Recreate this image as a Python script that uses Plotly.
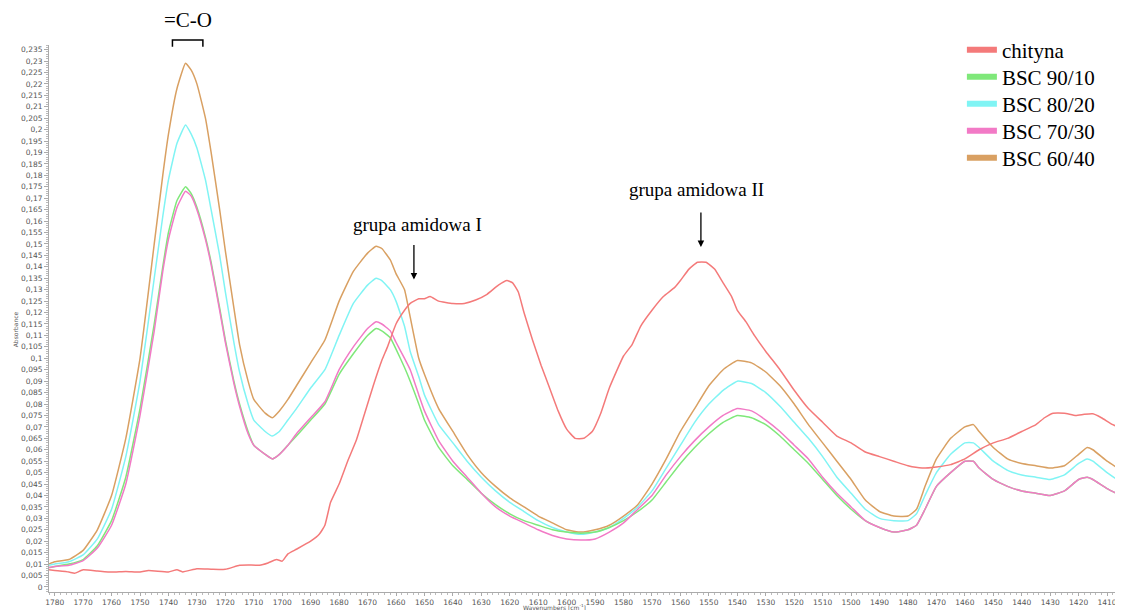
import plotly.graph_objects as go

# ---------------- data ----------------
wn_bsc = [1782, 1780, 1775, 1770, 1765, 1760, 1755, 1750, 1745, 1742, 1740, 1737, 1734, 1732, 1730,
          1727, 1725, 1722, 1720, 1717, 1715, 1712, 1710, 1706, 1703.5, 1701, 1698, 1695, 1690, 1685,
          1680, 1675, 1670, 1667, 1665, 1662, 1660, 1657, 1655, 1652, 1650, 1645, 1640, 1635, 1630,
          1625, 1620, 1615, 1610, 1605, 1600, 1595, 1590, 1585, 1580, 1575, 1570, 1565, 1560, 1555,
          1550, 1545, 1540, 1535, 1530, 1525, 1520, 1515, 1510, 1505, 1500, 1495, 1490, 1485, 1480,
          1477, 1474, 1470, 1465, 1460, 1457, 1455, 1450, 1445, 1440, 1435, 1430, 1425, 1420, 1417,
          1415, 1410, 1405, 1404]

bsc_60_40 = [0.010, 0.011, 0.012, 0.016, 0.025, 0.040, 0.065, 0.100, 0.150, 0.180, 0.198, 0.218, 0.229, 0.226, 0.220,
             0.205, 0.190, 0.165, 0.147, 0.122, 0.106, 0.090, 0.082, 0.076, 0.074, 0.077, 0.082, 0.088, 0.098, 0.108,
             0.125, 0.138, 0.146, 0.149, 0.148, 0.143, 0.137, 0.130, 0.118, 0.100, 0.093, 0.078, 0.068, 0.058, 0.050,
             0.044, 0.039, 0.035, 0.031, 0.028, 0.025, 0.024, 0.025, 0.027, 0.031, 0.036, 0.045, 0.056, 0.068, 0.078,
             0.088, 0.095, 0.099, 0.098, 0.094, 0.088, 0.080, 0.071, 0.063, 0.055, 0.047, 0.038, 0.033, 0.031, 0.031,
             0.034, 0.044, 0.056, 0.065, 0.070, 0.071, 0.068, 0.061, 0.056, 0.054, 0.053, 0.052, 0.053, 0.058, 0.061,
             0.060, 0.055, 0.051, 0.050]

bsc_80_20 = [0.0095, 0.010, 0.011, 0.014, 0.021, 0.034, 0.057, 0.090, 0.135, 0.162, 0.178, 0.194, 0.202, 0.198, 0.192,
             0.178, 0.165, 0.145, 0.129, 0.107, 0.094, 0.080, 0.073, 0.068, 0.066, 0.068, 0.073, 0.078, 0.087, 0.095,
             0.110, 0.124, 0.132, 0.135, 0.134, 0.130, 0.125, 0.114, 0.103, 0.092, 0.084, 0.071, 0.063, 0.055, 0.048,
             0.042, 0.037, 0.033, 0.029, 0.026, 0.024, 0.023, 0.024, 0.026, 0.030, 0.035, 0.042, 0.052, 0.062, 0.072,
             0.080, 0.086, 0.090, 0.089, 0.085, 0.079, 0.072, 0.065, 0.057, 0.048, 0.041, 0.034, 0.030, 0.029, 0.029,
             0.032, 0.040, 0.050, 0.058, 0.063, 0.063, 0.061, 0.055, 0.051, 0.049, 0.048, 0.047, 0.049, 0.054, 0.056,
             0.055, 0.050, 0.046, 0.046]

bsc_90_10 = [0.0085, 0.009, 0.010, 0.012, 0.018, 0.029, 0.048, 0.078, 0.115, 0.140, 0.155, 0.169, 0.175, 0.172, 0.166,
             0.153, 0.142, 0.122, 0.108, 0.090, 0.080, 0.068, 0.062, 0.058, 0.056, 0.058, 0.062, 0.066, 0.073, 0.080,
             0.093, 0.102, 0.110, 0.113, 0.112, 0.109, 0.104, 0.096, 0.090, 0.080, 0.073, 0.061, 0.053, 0.047, 0.041,
             0.036, 0.032, 0.029, 0.027, 0.025, 0.024, 0.0235, 0.024, 0.026, 0.029, 0.033, 0.038, 0.046, 0.054, 0.061,
             0.067, 0.072, 0.075, 0.074, 0.071, 0.066, 0.060, 0.054, 0.047, 0.040, 0.034, 0.029, 0.026, 0.024, 0.025,
             0.027, 0.034, 0.044, 0.050, 0.055, 0.055, 0.052, 0.047, 0.044, 0.042, 0.041, 0.040, 0.042, 0.047, 0.048,
             0.047, 0.043, 0.040, 0.040]

bsc_70_30 = [0.0085, 0.009, 0.0095, 0.0115, 0.017, 0.027, 0.045, 0.075, 0.112, 0.138, 0.152, 0.166, 0.173, 0.171, 0.165,
             0.152, 0.141, 0.121, 0.107, 0.089, 0.079, 0.067, 0.062, 0.058, 0.056, 0.058, 0.062, 0.067, 0.074, 0.081,
             0.095, 0.105, 0.113, 0.116, 0.115, 0.112, 0.107, 0.100, 0.095, 0.084, 0.077, 0.064, 0.055, 0.048, 0.041,
             0.035, 0.031, 0.028, 0.025, 0.0225, 0.021, 0.0205, 0.021, 0.024, 0.028, 0.034, 0.040, 0.049, 0.057, 0.064,
             0.070, 0.075, 0.078, 0.077, 0.073, 0.068, 0.062, 0.056, 0.048, 0.041, 0.035, 0.029, 0.026, 0.024, 0.025,
             0.027, 0.034, 0.044, 0.050, 0.055, 0.055, 0.052, 0.047, 0.044, 0.042, 0.041, 0.040, 0.042, 0.047, 0.048,
             0.047, 0.043, 0.040, 0.040]

wn_chit = [1782, 1780, 1775, 1773, 1770, 1765, 1760, 1755, 1750, 1747, 1740, 1737, 1735, 1730, 1725, 1720,
           1715, 1712, 1708, 1705, 1702, 1700, 1698, 1695, 1690, 1687, 1685, 1683, 1680, 1677, 1674, 1671,
           1668, 1665, 1663, 1660, 1657, 1655, 1652, 1650, 1648, 1645, 1640, 1636, 1632, 1628, 1624, 1621,
           1619, 1617, 1615, 1612, 1609, 1606, 1603, 1600, 1597, 1594, 1591, 1588, 1585, 1580, 1577, 1574,
           1570, 1566, 1562, 1560, 1557, 1554, 1551, 1548, 1545, 1542, 1540, 1537, 1534, 1530, 1525, 1520,
           1515, 1510, 1505, 1500, 1495, 1490, 1485, 1480, 1475, 1470, 1465, 1460, 1455, 1450, 1445, 1440,
           1435, 1432, 1429, 1425, 1421, 1418, 1415, 1412, 1408, 1404]

chityna = [0.0075, 0.0072, 0.0065, 0.006, 0.0075, 0.007, 0.0065, 0.0068, 0.0065, 0.0072, 0.0066, 0.0075, 0.0066, 0.008, 0.0078, 0.0077,
           0.0095, 0.0096, 0.0095, 0.0105, 0.012, 0.0113, 0.0145, 0.0165, 0.020, 0.023, 0.027, 0.037, 0.045, 0.055, 0.064, 0.076,
           0.088, 0.099, 0.105, 0.115, 0.121, 0.124, 0.126, 0.126, 0.127, 0.125, 0.124, 0.124, 0.1255, 0.128, 0.132, 0.134,
           0.133, 0.129, 0.120, 0.108, 0.097, 0.087, 0.077, 0.069, 0.065, 0.065, 0.068, 0.076, 0.087, 0.101, 0.106, 0.114,
           0.121, 0.127, 0.131, 0.134, 0.139, 0.142, 0.142, 0.139, 0.133, 0.127, 0.121, 0.116, 0.110, 0.103, 0.095, 0.086,
           0.078, 0.072, 0.066, 0.063, 0.059, 0.057, 0.055, 0.053, 0.052, 0.0525, 0.0535, 0.056, 0.060, 0.063, 0.065, 0.068,
           0.071, 0.074, 0.076, 0.076, 0.075, 0.0755, 0.0757, 0.074, 0.071, 0.069]

series_names = ["chityna", "BSC 90/10", "BSC 80/20", "BSC 70/30", "BSC 60/40"]
series_colors = ["#f47a7a", "#7fe87a", "#80f4f4", "#f27ac6", "#d9a062"]

y_tick_vals = [i * 0.005 for i in range(48)]
y_tick_text = [("%g" % round(v, 3)).replace(".", ",") for v in y_tick_vals]
x_tick_vals = list(range(1780, 1400, -10))
x_tick_text = [str(v) for v in x_tick_vals]

# ---------------- figure ----------------
fig = go.Figure()

data_sets = [(wn_chit, chityna), (wn_bsc, bsc_90_10), (wn_bsc, bsc_80_20), (wn_bsc, bsc_70_30), (wn_bsc, bsc_60_40)]
draw_order = [4, 2, 1, 3, 0]
for i in draw_order:
    xs, ys = data_sets[i]
    fig.add_trace(go.Scatter(x=xs, y=ys, mode="lines", name=series_names[i], showlegend=False,
                             line=dict(color=series_colors[i], width=1.5, shape="spline", smoothing=0.4)))

serif = "Liberation Serif"
legend_ids = ["legend", "legend2", "legend3", "legend4", "legend5"]
legend_y = [0.9909, 0.9415, 0.8921, 0.8428, 0.7934]
legend_layout = {}
for name, col, lid, ly in zip(series_names, series_colors, legend_ids, legend_y):
    fig.add_trace(go.Scatter(x=[None], y=[None], mode="lines", name=name, legend=lid,
                             line=dict(color=col, width=6)))
    legend_layout[lid] = dict(x=0.850, y=ly, xanchor="left", yanchor="middle",
                              font=dict(family=serif, size=21, color="black"),
                              bgcolor="rgba(0,0,0,0)", itemwidth=30, borderwidth=0)

axis_font = dict(family="DejaVu Sans", size=7.5, color="#555555")

fig.update_layout(
    width=1115, height=602,
    margin=dict(l=41, r=0, t=37, b=18),
    paper_bgcolor="white", plot_bgcolor="white",
    showlegend=True,
    xaxis=dict(range=[1782, 1404.4], showgrid=False, zeroline=False,
               showline=True, linecolor="#aaaaaa", linewidth=1,
               tickmode="array", tickvals=x_tick_vals, ticktext=x_tick_text,
               ticks="outside", ticklen=3, tickcolor="#aaaaaa", tickfont=axis_font,
               minor=dict(dtick=2, tick0=1780, ticks="outside", ticklen=2, tickcolor="#bbbbbb", showgrid=False)),
    yaxis=dict(range=[-0.0022, 0.237], showgrid=False, zeroline=False,
               showline=True, linecolor="#aaaaaa", linewidth=1,
               tickmode="array", tickvals=y_tick_vals, ticktext=y_tick_text,
               ticks="outside", ticklen=4, tickcolor="#aaaaaa", tickfont=axis_font,
               minor=dict(dtick=0.001, tick0=0, ticks="outside", ticklen=2, tickcolor="#bbbbbb", showgrid=False)),
    **legend_layout,
)

# axis titles
fig.add_annotation(text="Absorbance", xref="paper", yref="paper", x=-0.036, y=0.48,
                   textangle=-90, showarrow=False, font=dict(family="DejaVu Sans", size=6, color="#555555"))
fig.add_annotation(text="Wavenumbers [cm<sup>-1</sup>]", xref="paper", yref="paper", x=0.471, y=-0.028,
                   yanchor="middle", showarrow=False, font=dict(family="DejaVu Sans", size=6, color="#555555"))

# band annotations
fig.add_annotation(text="=C-O", xref="x", yref="paper", x=1733.3, y=1.046, yanchor="middle",
                   showarrow=False, font=dict(family=serif, size=21, color="black"))
fig.add_shape(type="path", xref="x", yref="paper",
              path="M 1738.6,0.997 L 1738.6,1.009 L 1727.9,1.009 L 1727.9,0.997",
              line=dict(color="black", width=1.5))

fig.add_annotation(text="grupa amidowa I", xref="x", yref="y", x=1652.5, y=0.1585,
                   showarrow=False, font=dict(family=serif, size=19, color="black"))
fig.add_annotation(x=1653.7, y=0.1344, xref="x", yref="y", ax=0, ay=-36,
                   showarrow=True, arrowhead=2, arrowsize=1, arrowwidth=1.3, arrowcolor="black", text="")
fig.add_annotation(text="grupa amidowa II", xref="x", yref="y", x=1554.5, y=0.1740,
                   showarrow=False, font=dict(family=serif, size=19, color="black"))
fig.add_annotation(x=1552.8, y=0.1487, xref="x", yref="y", ax=0, ay=-36,
                   showarrow=True, arrowhead=2, arrowsize=1, arrowwidth=1.3, arrowcolor="black", text="")

fig.write_html("out.html")
